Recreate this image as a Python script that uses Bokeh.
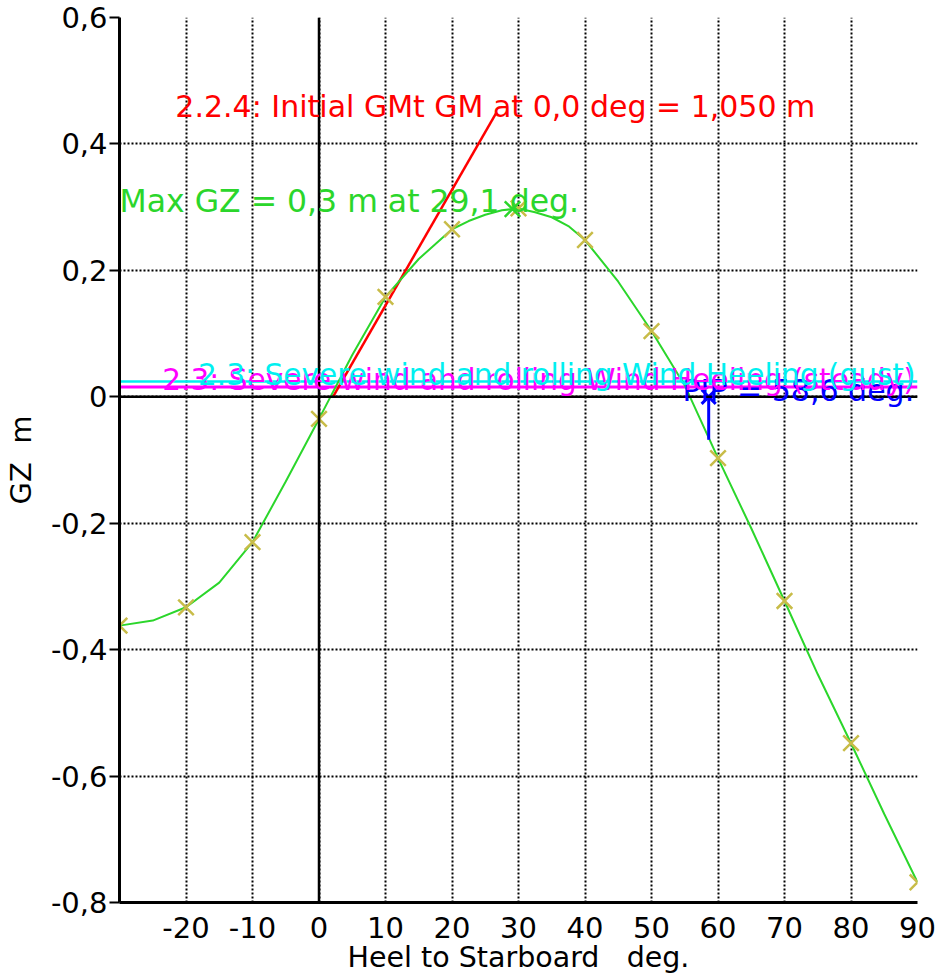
from bokeh.plotting import figure
from bokeh.models import Range1d, FixedTicker, Span, Label
from bokeh.embed import file_html
from bokeh.resources import INLINE

# ---- data ----
heel = [-30, -25, -20, -15, -10, -5, 0, 5, 10, 15, 20, 22.5, 25, 27.5, 30,
        32.5, 35, 37.5, 40, 45, 50, 55, 60, 65, 70, 75, 80, 85, 90]
gz = [-0.362, -0.354, -0.333, -0.294, -0.230, -0.134, -0.035, 0.066, 0.158,
      0.218, 0.265, 0.278, 0.288, 0.295, 0.298, 0.292, 0.284, 0.270, 0.248,
      0.182, 0.104, 0.018, -0.097, -0.208, -0.323, -0.439, -0.548, -0.660, -0.768]

marker_heel = [-30, -20, -10, 0, 10, 20, 30, 40, 50, 60, 70, 80, 90]
marker_gz = [-0.362, -0.333, -0.230, -0.035, 0.158, 0.265, 0.298, 0.248,
             0.104, -0.097, -0.323, -0.548, -0.768]

max_gz_heel = [29.1]
max_gz_val = [0.297]

gm_line_x = [2.1, 26.7]
gm_line_y = [0.0, 0.45]

gust_level = 0.024
steady_level = 0.0155

phi_heel = [58.6, 58.6]
phi_gz = [0.0, -0.068]

xticks = [-20, -10, 0, 10, 20, 30, 40, 50, 60, 70, 80, 90]
xtick_labels = ["-20", "-10", "0", "10", "20", "30", "40", "50", "60", "70", "80", "90"]
yticks = [-0.8, -0.6, -0.4, -0.2, 0, 0.2, 0.4, 0.6]
ytick_labels = ["-0,8", "-0,6", "-0,4", "-0,2", "0", "0,2", "0,4", "0,6"]

label_gm = "2.2.4: Initial GMt GM at 0,0 deg = 1,050 m"
label_max = "Max GZ = 0,3 m at 29,1 deg."
label_gust = "2.3: Severe wind and rolling Wind Heeling (gust)"
label_steady = "2.3: Severe wind and rolling Wind Heeling (steady)"
label_phi = "PIP = 58,6 deg."
x_title = "Heel to Starboard\u00a0\u00a0\u00a0deg."
y_title = "GZ\u00a0\u00a0m"

FONT = "DejaVu Sans"
FS = "29px"

p = figure(output_backend="svg", toolbar_location=None,
           frame_width=798, frame_height=885,
           min_border_left=112, min_border_right=20,
           min_border_top=17, min_border_bottom=60,
           x_range=Range1d(-30, 90), y_range=Range1d(-0.8, 0.6))
p.outline_line_color = None
p.background_fill_color = "white"

# axes
for ax in (p.xaxis[0], p.yaxis[0]):
    ax.axis_line_width = 3
    ax.axis_line_color = "black"
    ax.major_label_text_font = FONT
    ax.major_label_text_font_size = FS
    ax.major_label_text_color = "black"
    ax.axis_label_text_font = FONT
    ax.axis_label_text_font_size = FS
    ax.axis_label_text_font_style = "normal"
    ax.axis_label_text_color = "black"
    ax.minor_tick_line_color = None

p.xaxis.ticker = FixedTicker(ticks=xticks)
p.xaxis.major_label_overrides = {t: l for t, l in zip(xticks, xtick_labels)}
p.xaxis.major_tick_out = 0
p.xaxis.major_tick_in = 0
p.xaxis.major_label_standoff = 14
p.xaxis.axis_label = x_title
p.xaxis.axis_label_standoff = 0
p.xaxis.axis_label_text_font_size = "28.5px"

p.yaxis.ticker = FixedTicker(ticks=yticks)
p.yaxis.major_label_overrides = {t: l for t, l in zip(yticks, ytick_labels)}
p.yaxis.major_tick_out = 10
p.yaxis.major_tick_in = 0
p.yaxis.major_tick_line_width = 2
p.yaxis.major_label_standoff = 2
p.yaxis.axis_label = y_title
p.yaxis.axis_label_standoff = 10

# grid
p.xgrid.ticker = FixedTicker(ticks=xticks)
p.ygrid.ticker = FixedTicker(ticks=yticks)
for g in (p.xgrid[0], p.ygrid[0]):
    g.grid_line_color = "black"
    g.grid_line_dash = "2 2"
    g.grid_line_width = 2
    g.grid_line_alpha = 1.0

# zero lines
p.add_layout(Span(location=0, dimension="height", line_color="black", line_width=2.5))
p.add_layout(Span(location=0, dimension="width", line_color="black", line_width=2.5))

# wind heeling lines
p.line([-30, 90], [steady_level, steady_level], line_color="#FF00FF", line_width=3)
p.line([-30, 90], [gust_level, gust_level], line_color="#00F0F0", line_width=2.5)

# GM tangent
p.line(gm_line_x, gm_line_y, line_color="#FF0000", line_width=2.5)

# GZ curve
p.line(heel, gz, line_color="#2BD62B", line_width=2)
p.scatter(marker_heel, marker_gz, marker="x", size=22, line_color="#C8BC48",
          line_width=2.5)
p.scatter(max_gz_heel, max_gz_val, marker="x", size=22, line_color="#2BD62B",
          line_width=2.5)

# Phi marker
p.line(phi_heel, phi_gz, line_color="#0000FF", line_width=3)
p.scatter(phi_heel[:1], phi_gz[:1], marker="x", size=20, line_color="#0000FF",
          line_width=3)

# texts
p.add_layout(Label(x=-21.6, y=0.460, text=label_gm, text_color="#FF0000",
                   text_font=FONT, text_font_size="30px", text_baseline="alphabetic"))
p.add_layout(Label(x=-30, y=0.310, text=label_max, text_color="#2BD62B",
                   text_font=FONT, text_font_size="31.5px", text_baseline="alphabetic"))
p.add_layout(Label(x=89.5, y=0.010, text=label_phi, text_color="#0000FF",
                   text_font=FONT, text_font_size="30px", text_baseline="alphabetic",
                   text_align="right"))
p.add_layout(Label(x=89.6, y=0.027, text=label_steady, text_color="#FF00FF",
                   text_font=FONT, text_font_size="29.6px", text_baseline="alphabetic",
                   text_align="right"))
p.add_layout(Label(x=89.7, y=0.034, text=label_gust, text_color="#00F0F0",
                   text_font=FONT, text_font_size="29.6px", text_baseline="alphabetic",
                   text_align="right"))

open("out.html", "w").write(file_html(p, INLINE))
